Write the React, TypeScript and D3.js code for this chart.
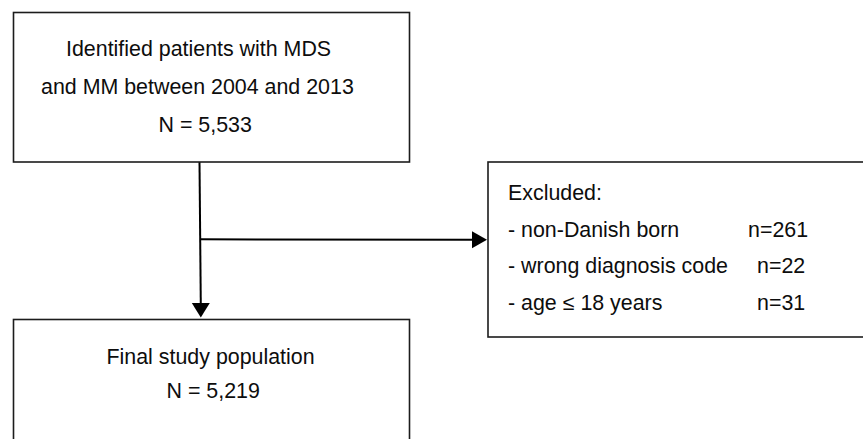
import React from "react";
import * as d3 from "d3";

// ---- data ----
const sourceLines = ["Identified patients with MDS", "and MM between 2004 and 2013", "N = 5,533"];
const excludedTitle = "Excluded:";
const excludedReasons = ["non-Danish born", "wrong diagnosis code", "age \u2264 18 years"];
const excludedCounts = [261, 22, 31];
const finalLines = ["Final study population", "N = 5,219"];

// ---- layout ----
const W = 863;
const H = 439;
const FONT = "'Liberation Sans', Arial, Helvetica, sans-serif";
const FS = 21.4;

const topBox = { x0: 13.5, y0: 12.5, x1: 409.5, y1: 162 };
const exclBox = { x0: 488, y0: 162, x1: 880, y1: 337 };
const finalBox = { x0: 13.5, y0: 319.5, x1: 409.5, y1: 460 };

const topLineX = [66, 41, 158.5];
const topLineY = [56, 94, 132];
const exclTextX = 508;
const exclY = [200, 236.5, 273, 310];
const countX = [748, 757, 757];
const finalLineX = [106.5, 166.5];
const finalLineY = [364, 398];

const lineGen = d3.line<[number, number]>();

function arrowHead(tip: [number, number], dir: "down" | "right", len: number, half: number) {
  const p = d3.path();
  const [x, y] = tip;
  if (dir === "down") {
    p.moveTo(x, y);
    p.lineTo(x - half, y - len);
    p.lineTo(x + half, y - len);
  } else {
    p.moveTo(x, y);
    p.lineTo(x - len, y - half);
    p.lineTo(x - len, y + half);
  }
  p.closePath();
  return p.toString();
}

function Box({ b }: { b: { x0: number; y0: number; x1: number; y1: number } }) {
  return (
    <rect
      x={b.x0}
      y={b.y0}
      width={b.x1 - b.x0}
      height={b.y1 - b.y0}
      fill="#fff"
      stroke="#1c1c1c"
      strokeWidth={1.6}
    />
  );
}

export default function App() {
  const vx0 = 199.5;
  const vTip: [number, number] = [200.8, 317.5];
  const branchY = 239.3;
  const hTip: [number, number] = [487, 239.8];

  return (
    <svg
      width={W}
      height={H}
      viewBox={`0 0 ${W} ${H}`}
      style={{ position: "fixed", left: 0, top: 0, background: "#fff" }}
      fontFamily={FONT}
    >
      <rect x={0} y={0} width={W} height={H} fill="#fff" />

      {/* connectors */}
      <path
        d={lineGen([[vx0, topBox.y1], [vTip[0], vTip[1] - 12]]) || ""}
        stroke="#000"
        strokeWidth={2}
        fill="none"
      />
      <path
        d={lineGen([[vx0 + 0.8, branchY], [hTip[0] - 12, hTip[1]]]) || ""}
        stroke="#000"
        strokeWidth={2}
        fill="none"
      />
      <path d={arrowHead(vTip, "down", 14.5, 9)} fill="#000" />
      <path d={arrowHead(hTip, "right", 15, 8.5)} fill="#000" />

      <Box b={topBox} />
      <Box b={exclBox} />
      <Box b={finalBox} />

      {/* source box text */}
      {sourceLines.map((t, i) => (
        <text key={"s" + i} x={topLineX[i]} y={topLineY[i]} fontSize={FS} fill="#0d0d0d">
          {t}
        </text>
      ))}

      {/* excluded box text */}
      <text x={exclTextX} y={exclY[0]} fontSize={FS} fill="#0d0d0d">
        {excludedTitle}
      </text>
      {excludedReasons.map((t, i) => (
        <text key={"r" + i} x={exclTextX} y={exclY[i + 1]} fontSize={FS} fill="#0d0d0d">
          {"- " + t}
        </text>
      ))}
      {excludedCounts.map((c, i) => (
        <text key={"c" + i} x={countX[i]} y={exclY[i + 1]} fontSize={FS} fill="#0d0d0d">
          {"n=" + c}
        </text>
      ))}

      {/* final box text */}
      {finalLines.map((t, i) => (
        <text key={"f" + i} x={finalLineX[i]} y={finalLineY[i]} fontSize={FS} fill="#0d0d0d">
          {t}
        </text>
      ))}
    </svg>
  );
}
